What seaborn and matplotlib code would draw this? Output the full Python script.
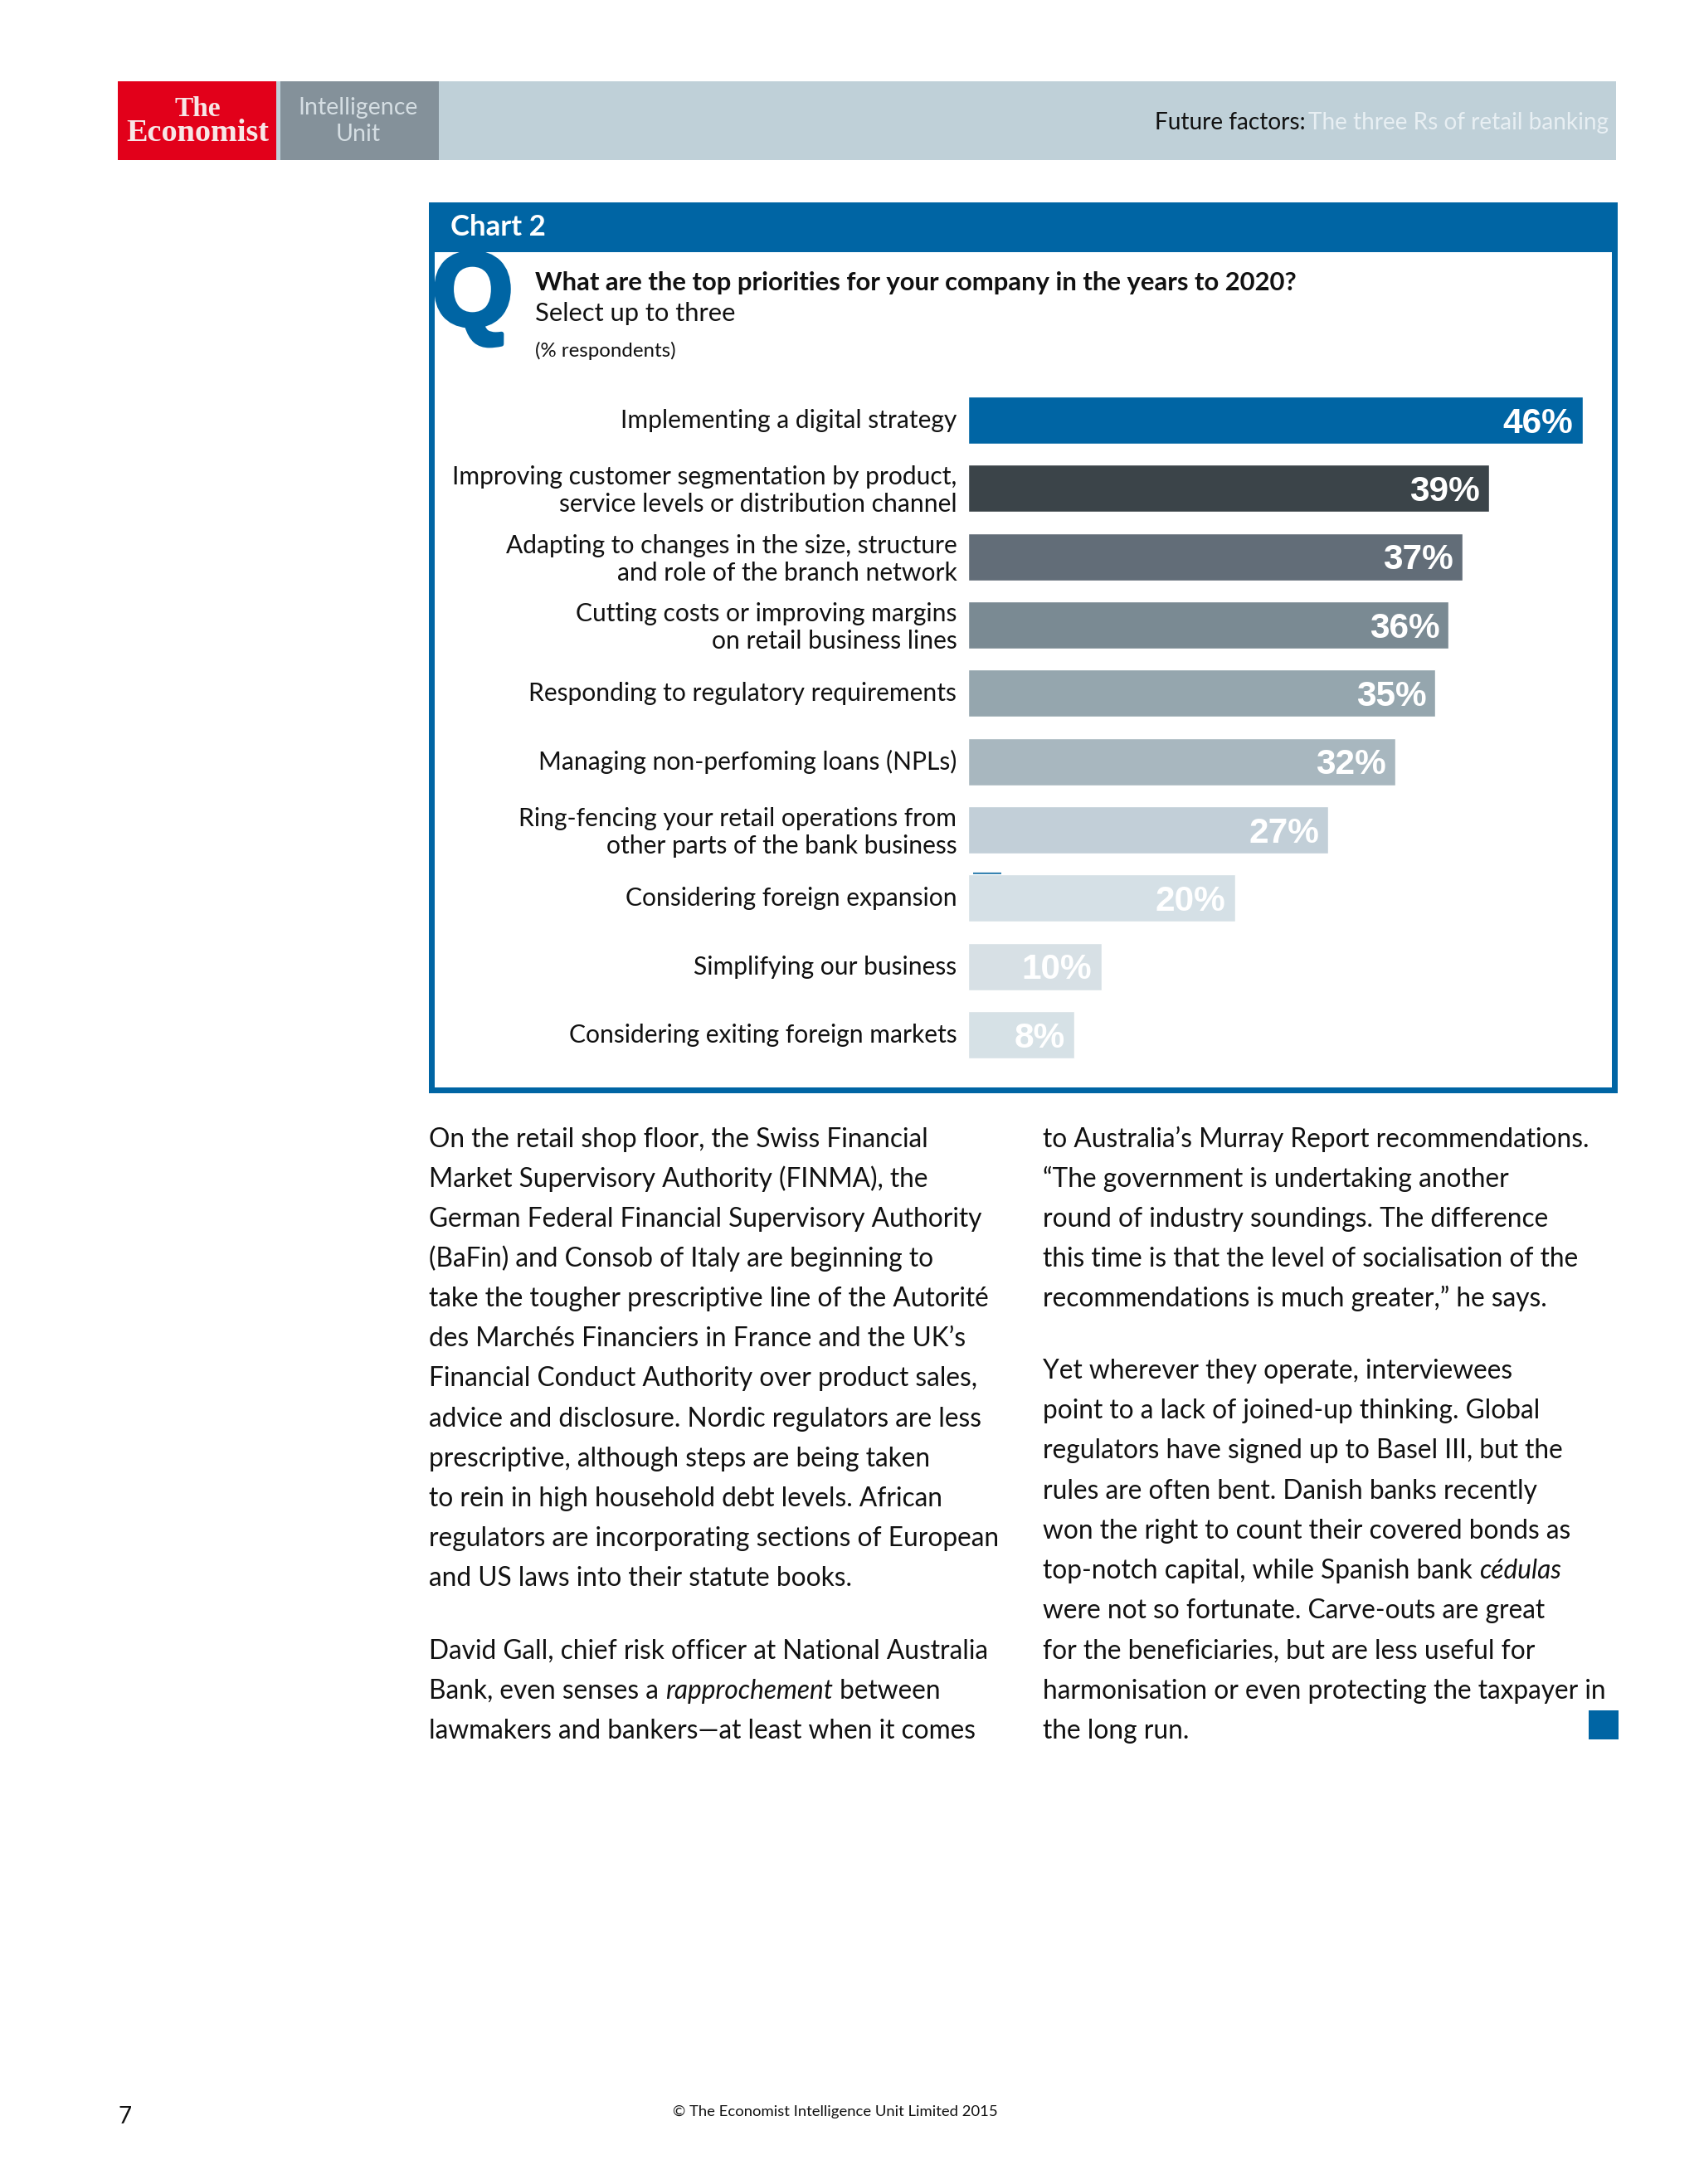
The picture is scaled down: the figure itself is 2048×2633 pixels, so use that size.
import matplotlib
matplotlib.use("Agg")
import matplotlib.pyplot as plt
from matplotlib.patches import Rectangle
from matplotlib.transforms import ScaledTranslation
import matplotlib.patheffects as pe
import seaborn as sns

# chart data
categories = [
    "Implementing a digital strategy",
    "Improving customer segmentation by product,\nservice levels or distribution channel",
    "Adapting to changes in the size, structure\nand role of the branch network",
    "Cutting costs or improving margins\non retail business lines",
    "Responding to regulatory requirements",
    "Managing non-perfoming loans (NPLs)",
    "Ring-fencing your retail operations from\nother parts of the bank business",
    "Considering foreign expansion",
    "Simplifying our business",
    "Considering exiting foreign markets",
]
values = [46, 39, 37, 36, 35, 32, 27, 20, 10, 8]
bar_colors = ["#0065A4", "#3B4449", "#626D78", "#7A8A93", "#95A6AE",
              "#A8B7BF", "#C2CFD8", "#D5E0E6", "#D7E0E5", "#D6E1E6"]

# page text, "*" marks an italic run
left_col = [
    (1383, "On the retail shop floor, the Swiss Financial"),
    (1431, "Market Supervisory Authority (FINMA), the"),
    (1479, "German Federal Financial Supervisory Authority"),
    (1527, "(BaFin) and Consob of Italy are beginning to"),
    (1575, "take the tougher prescriptive line of the Autorité"),
    (1623, "des Marchés Financiers in France and the UK’s"),
    (1671, "Financial Conduct Authority over product sales,"),
    (1720, "advice and disclosure. Nordic regulators are less"),
    (1768, "prescriptive, although steps are being taken"),
    (1816, "to rein in high household debt levels. African"),
    (1864, "regulators are incorporating sections of European"),
    (1912, "and US laws into their statute books."),
    (2000, "David Gall, chief risk officer at National Australia"),
    (2048, "Bank, even senses a *rapprochement* between"),
    (2096, "lawmakers and bankers—at least when it comes"),
]
right_col = [
    (1383, "to Australia’s Murray Report recommendations."),
    (1431, "“The government is undertaking another"),
    (1479, "round of industry soundings. The difference"),
    (1527, "this time is that the level of socialisation of the"),
    (1575, "recommendations is much greater,” he says."),
    (1662, "Yet wherever they operate, interviewees"),
    (1710, "point to a lack of joined-up thinking. Global"),
    (1758, "regulators have signed up to Basel III, but the"),
    (1807, "rules are often bent. Danish banks recently"),
    (1855, "won the right to count their covered bonds as"),
    (1903, "top-notch capital, while Spanish bank *cédulas*"),
    (1951, "were not so fortunate. Carve-outs are great"),
    (2000, "for the beneficiaries, but are less useful for"),
    (2048, "harmonisation or even protecting the taxpayer in"),
    (2096, "the long run."),
]

W, H = 2048, 2633
BLUE = "#0065A4"
FONT = "Lato"

sns.set_theme(style="white")
plt.rcParams["font.family"] = [FONT, "DejaVu Sans"]

fig = plt.figure(figsize=(W / 100, H / 100), dpi=100, facecolor="white")
page = fig.add_axes([0, 0, 1, 1])
page.set_xlim(0, W)
page.set_ylim(H, 0)
page.axis("off")


def box(x0, y0, x1, y1, color):
    page.add_patch(Rectangle((x0, y0), x1 - x0, y1 - y0, color=color, lw=0))


def put(x, y, s, size, **kw):
    return page.text(x, y, s, fontsize=size, va="baseline", color=kw.pop("color", "#111111"), **kw)


def body_line(x, y, s, size=22.8):
    # lines with an italic word have to be placed run by run
    rend = fig.canvas.get_renderer()
    for i, run in enumerate(s.split("*")):
        if not run:
            continue
        t = put(x, y, run, size, style="italic" if i % 2 else "normal")
        x += t.get_window_extent(rend).width


# banner
box(142, 98, 1948, 193, "#BFD0D8")
box(142, 98, 333, 193, "#E2001A")
box(338, 98, 529, 193, "#84919A")
put(238, 140, "The", 24, family="Liberation Serif", weight="bold", color="#F7E6E6", ha="center")
put(238, 170, "Economist", 27.5, family="Liberation Serif", weight="bold", color="#F7E6E6", ha="center")
put(432, 138, "Intelligence", 20.5, color="#D5DEE3", ha="center")
put(432, 170, "Unit", 20.5, color="#D5DEE3", ha="center")
put(1392, 156, "Future factors:", 20.2)
put(1577, 156, "The three Rs of retail banking", 20.2, color="#E8EFF3")

# chart frame
box(517, 244, 1950, 304, BLUE)
box(517, 304, 524, 1318, BLUE)
box(1943, 304, 1950, 1318, BLUE)
box(517, 1311, 1950, 1318, BLUE)
put(543, 284, "Chart 2", 25, weight="bold", color="white")

q = put(521, 392, "Q", 90, family="Liberation Sans", weight="bold", color=BLUE)
q.set_path_effects([pe.withStroke(linewidth=4, foreground=BLUE)])

put(645, 350, "What are the top priorities for your company in the years to 2020?", 22.3, weight="bold")
put(645, 387, "Select up to three", 22.3)
put(645, 430, "(% respondents)", 17.3)

# bars
bars = fig.add_axes([1166.5 / W, 1 - 1288.7 / H, 741 / W, 823.4 / H])
bars.patch.set_alpha(0)
sns.barplot(x=values, y=categories, hue=categories, palette=bar_colors, legend=False,
            width=0.692, saturation=1, ax=bars)
bars.set_xlim(0, 46)
bars.set_ylim(9.5, -0.5)
bars.set_xlabel("")
bars.set_ylabel("")
bars.xaxis.set_visible(False)
sns.despine(ax=bars, left=True, bottom=True)
bars.tick_params(axis="y", length=0, pad=9.5)
for lab in bars.get_yticklabels():
    lab.set_fontsize(21.6)
    lab.set_color("#111111")
    lab.set_linespacing(1.22)
    lab.set_ha("right")
    lab.set_transform(lab.get_transform() + ScaledTranslation(0, 2 / 100, fig.dpi_scale_trans))
for i, v in enumerate(values):
    bars.annotate(f"{v}%", (v, i), xytext=(-8, -3), textcoords="offset points",
                  ha="right", va="center", color="white", fontsize=30.5,
                  family="Liberation Sans", weight="bold")

page.plot([1173, 1207], [1052.5, 1052.5], color="#1F74A8", lw=1.6, solid_capstyle="butt")

# article text
for y, s in left_col:
    body_line(517, y, s)
for y, s in right_col:
    body_line(1257, y, s)
box(1915, 2062, 1951, 2097, BLUE)

# footer
put(142, 2560, "7", 20)
put(1007, 2551, "© The Economist Intelligence Unit Limited 2015", 13.3, ha="center")

fig.savefig("out.png", dpi=100, facecolor="white")
